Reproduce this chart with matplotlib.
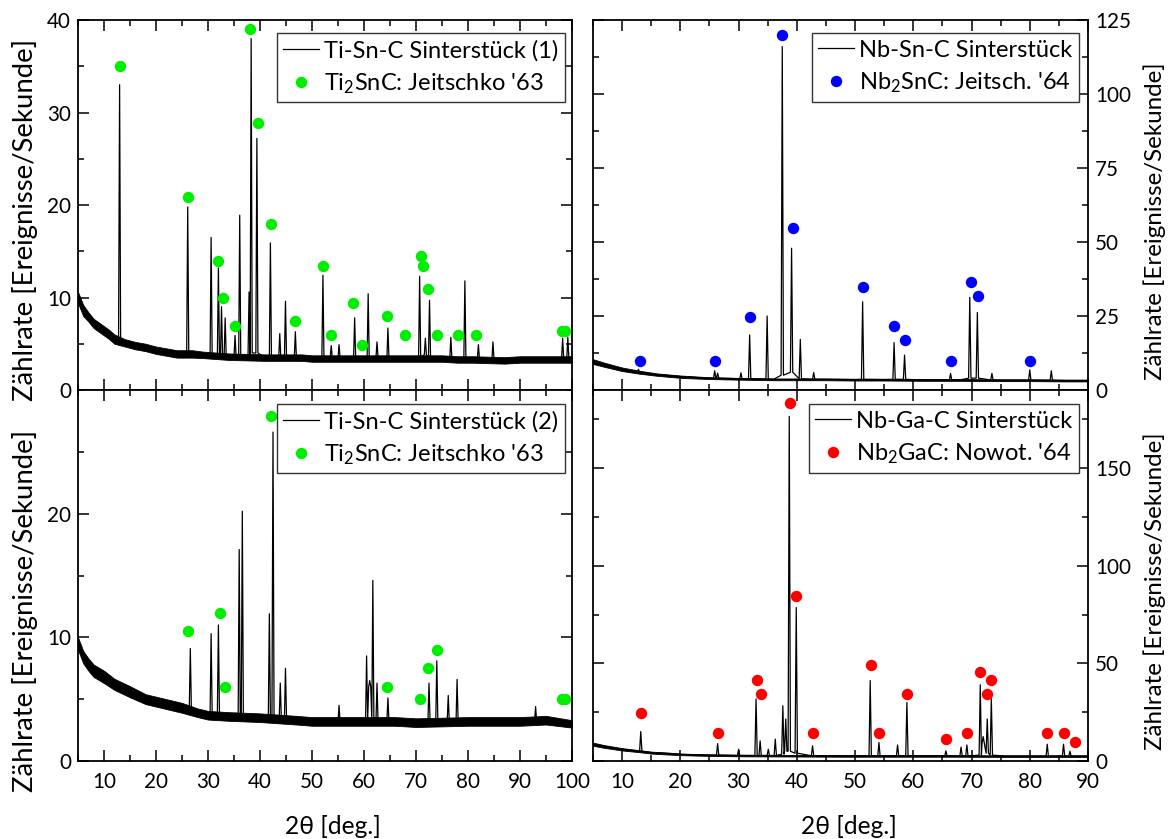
import numpy as np
import matplotlib
matplotlib.use('Agg')
import matplotlib.pyplot as plt
from matplotlib.ticker import MultipleLocator, FixedLocator
from matplotlib.lines import Line2D

plt.rcParams['font.family'] = ['Lato', 'DejaVu Sans']
plt.rcParams['mathtext.fontset'] = 'custom'
plt.rcParams['mathtext.rm'] = 'Lato'
plt.rcParams['mathtext.it'] = 'Lato:italic'

# ---------------- Panel data ----------------
# Top-left: Ti-Sn-C Sinterstück (1)
tl_bg_deg = [5, 6, 7, 8, 9, 10, 11, 12, 14, 16, 18, 20, 22, 24, 27, 29, 34, 41, 48, 50, 56, 60, 66, 69, 75, 78, 81, 87, 90, 95, 100]
tl_bg_mid = [10.0, 8.6, 7.9, 7.2, 6.8, 6.4, 6.0, 5.5, 5.1, 4.8, 4.6, 4.3, 4.1, 3.9, 3.9, 3.8, 3.6, 3.5, 3.5, 3.4, 3.4, 3.4, 3.4, 3.4, 3.4, 3.3, 3.3, 3.2, 3.3, 3.3, 3.3]
tl_bg_lo = [9.4, 8.0, 7.4, 6.7, 6.3, 5.9, 5.5, 5.0, 4.7, 4.4, 4.2, 3.9, 3.7, 3.5, 3.5, 3.45, 3.25, 3.15, 3.15, 3.05, 3.05, 3.05, 3.05, 3.05, 3.05, 2.95, 2.95, 2.85, 2.95, 2.95, 2.95]
tl_bg_hi = [10.6, 9.2, 8.4, 7.7, 7.3, 6.9, 6.5, 6.0, 5.5, 5.2, 5.0, 4.7, 4.5, 4.3, 4.3, 4.15, 3.95, 3.85, 3.85, 3.75, 3.75, 3.75, 3.75, 3.75, 3.75, 3.65, 3.65, 3.55, 3.65, 3.65, 3.65]
tl_pk_deg = [13.0, 26.1, 30.6, 32.0, 32.6, 33.3, 35.2, 36.1, 37.9, 38.3, 39.4, 42.0, 43.8, 44.9, 46.8, 52.1, 53.7, 55.2, 58.2, 60.8, 62.5, 64.6, 70.7, 71.8, 72.6, 76.7, 79.4, 82.0, 84.8, 98.2, 99.2]
tl_pk_top = [33.0, 19.8, 16.5, 13.2, 9.0, 7.8, 5.9, 18.9, 10.6, 38.0, 27.2, 15.9, 6.1, 9.6, 6.3, 12.4, 4.8, 4.9, 7.8, 10.4, 5.2, 6.7, 12.3, 5.6, 9.7, 5.7, 11.8, 4.9, 5.2, 5.6, 5.7]
tl_pk_base = [5.4, 4.0, 3.7, 3.7, 3.7, 3.7, 3.6, 3.6, 3.8, 4.0, 4.0, 3.6, 3.5, 3.5, 3.5, 3.5, 3.5, 3.5, 3.5, 3.5, 3.5, 3.4, 3.6, 3.8, 3.6, 3.4, 3.4, 3.4, 3.3, 3.4, 3.4]
tl_ref_deg = [13.0, 26.2, 32.0, 32.8, 35.2, 38.1, 39.6, 42.1, 46.7, 52.1, 53.7, 57.8, 59.6, 64.5, 67.9, 70.9, 71.4, 72.4, 74.1, 78.1, 81.5, 98.1, 98.6]
tl_ref_val = [35.0, 20.9, 13.9, 9.9, 6.95, 39.0, 28.9, 17.9, 7.46, 13.4, 5.9, 9.4, 4.9, 8.0, 5.9, 14.45, 13.4, 10.9, 5.9, 5.9, 5.9, 6.4, 6.4]

# Bottom-left: Ti-Sn-C Sinterstück (2)
bl_bg_deg = [5, 6, 7, 8, 10, 12, 15, 18, 20, 23, 25, 28, 30, 34, 40, 47, 50, 57, 66, 70, 80, 85, 90, 95, 100]
bl_bg_mid = [9.5, 8.4, 7.8, 7.3, 6.8, 6.2, 5.6, 5.0, 4.8, 4.5, 4.3, 3.9, 3.7, 3.6, 3.5, 3.3, 3.2, 3.2, 3.2, 3.1, 3.2, 3.2, 3.2, 3.3, 3.0]
bl_bg_lo = [9.0, 7.9, 7.3, 6.8, 6.3, 5.75, 5.15, 4.6, 4.4, 4.1, 3.9, 3.55, 3.35, 3.25, 3.15, 2.95, 2.85, 2.85, 2.85, 2.75, 2.85, 2.85, 2.85, 2.95, 2.7]
bl_bg_hi = [10.0, 8.9, 8.3, 7.8, 7.3, 6.65, 6.05, 5.4, 5.2, 4.9, 4.7, 4.25, 4.05, 3.95, 3.85, 3.65, 3.55, 3.55, 3.55, 3.45, 3.55, 3.55, 3.55, 3.65, 3.3]
bl_pk_deg = [26.6, 30.6, 32.0, 36.0, 36.6, 41.8, 42.5, 43.9, 44.9, 55.2, 60.5, 61.1, 61.7, 62.5, 64.6, 72.5, 74.0, 76.2, 77.9, 93.0]
bl_pk_top = [9.1, 10.3, 11.0, 17.1, 20.2, 11.9, 26.6, 6.3, 7.5, 4.5, 8.5, 6.5, 14.6, 6.3, 5.1, 6.3, 8.1, 5.3, 6.6, 4.4]
bl_pk_base = [4.2, 3.8, 3.8, 3.7, 3.7, 3.6, 3.6, 3.5, 3.5, 3.2, 3.3, 6.0, 3.3, 3.2, 3.2, 3.3, 3.3, 3.2, 3.2, 3.2]
bl_ref_deg = [26.2, 32.4, 33.2, 42.2, 64.5, 70.8, 72.4, 74.1, 98.1, 98.6]
bl_ref_val = [10.5, 12.0, 6.0, 27.9, 6.0, 5.0, 7.5, 9.0, 5.0, 5.0]

# Top-right: Nb-Sn-C Sinterstück
tr_bg_deg = [5, 7, 10, 13, 16, 20, 25, 30, 36, 45, 50, 55, 62, 68, 75, 80, 86, 90]
tr_bg_mid = [9.6, 8.5, 7.0, 6.0, 5.2, 4.5, 4.0, 3.8, 3.6, 3.6, 3.5, 3.5, 3.4, 3.4, 3.3, 3.3, 3.2, 3.2]
tr_bg_lo = [8.8, 7.8, 6.4, 5.5, 4.8, 4.1, 3.7, 3.5, 3.3, 3.3, 3.2, 3.2, 3.1, 3.1, 3.0, 3.0, 2.9, 2.9]
tr_bg_hi = [10.4, 9.2, 7.6, 6.5, 5.6, 4.9, 4.3, 4.1, 3.9, 3.9, 3.8, 3.8, 3.7, 3.7, 3.6, 3.6, 3.5, 3.5]
tr_pk_deg = [12.8, 25.9, 26.4, 30.4, 31.9, 34.9, 37.5, 39.1, 40.6, 42.9, 51.3, 56.7, 58.5, 66.4, 69.7, 71.0, 73.5, 80.0, 83.7]
tr_pk_top = [7.0, 6.5, 5.7, 5.8, 18.6, 25.0, 116.0, 47.9, 17.1, 5.9, 29.8, 16.0, 11.8, 5.6, 31.3, 26.2, 5.6, 6.8, 6.5]
tr_pk_base = [6.0, 4.0, 4.0, 3.8, 3.8, 3.7, 5.0, 6.0, 3.8, 3.6, 3.6, 3.6, 3.6, 3.4, 4.0, 4.0, 3.4, 3.3, 3.3]
tr_ref_deg = [13.1, 26.0, 31.9, 37.5, 39.3, 51.4, 56.7, 58.5, 66.5, 69.9, 71.1, 80.0]
tr_ref_val = [9.8, 9.8, 24.8, 119.9, 54.7, 34.7, 21.7, 16.9, 9.8, 36.6, 31.8, 9.8]

# Bottom-right: Nb-Ga-C Sinterstück
br_bg_deg = [5, 7, 10, 13, 15, 18, 20, 25, 31, 40, 48, 56, 62, 67, 76, 80, 88, 90]
br_bg_mid = [8.6, 7.4, 6.0, 5.0, 4.3, 3.8, 3.4, 3.0, 2.8, 2.7, 2.6, 2.6, 2.6, 2.6, 2.5, 2.5, 2.5, 2.5]
br_bg_lo = [7.8, 6.7, 5.4, 4.5, 3.8, 3.3, 3.0, 2.6, 2.4, 2.3, 2.2, 2.2, 2.2, 2.2, 2.1, 2.1, 2.1, 2.1]
br_bg_hi = [9.4, 8.1, 6.6, 5.5, 4.8, 4.3, 3.8, 3.4, 3.2, 3.1, 3.0, 3.0, 3.0, 3.0, 2.9, 2.9, 2.9, 2.9]
br_pk_deg = [13.2, 26.4, 30.0, 33.0, 33.7, 35.1, 36.3, 37.6, 38.1, 38.7, 39.9, 42.7, 52.6, 54.1, 57.3, 58.9, 65.6, 68.2, 69.2, 71.5, 72.0, 72.7, 73.4, 83.0, 85.8, 86.9]
br_pk_top = [15.1, 8.9, 6.0, 31.8, 10.3, 6.0, 11.2, 28.3, 21.5, 176.5, 78.6, 7.8, 41.2, 9.5, 8.2, 30.0, 5.2, 7.1, 8.2, 39.1, 12.5, 21.5, 31.8, 8.6, 8.6, 5.0]
br_pk_base = [5.0, 3.0, 2.8, 2.8, 2.8, 2.8, 2.8, 3.5, 5.0, 5.0, 4.0, 2.7, 2.6, 2.6, 2.6, 2.7, 2.6, 2.6, 2.6, 3.0, 9.0, 4.0, 3.0, 2.5, 2.5, 2.5]
br_ref_deg = [13.2, 26.4, 33.1, 33.8, 38.8, 39.9, 42.7, 52.7, 54.1, 58.9, 65.6, 69.2, 71.5, 72.7, 73.4, 82.9, 85.8, 87.7]
br_ref_val = [24.4, 14.2, 41.5, 34.3, 183.2, 84.6, 14.2, 49.4, 14.2, 34.3, 11.2, 14.2, 45.5, 34.3, 41.5, 14.2, 14.2, 9.5]

YLABEL = 'Zählrate [Ereignisse/Sekunde]'
XLABEL = '2θ [deg.]'

# ---------------- Drawing ----------------
W, H, DPI = 1174, 839, 100
fig = plt.figure(figsize=(W / DPI, H / DPI), dpi=DPI)
renderer = fig.canvas.get_renderer()

def fit_size(s, target_px):
    t = fig.text(0, 0, s, fontsize=10)
    w = t.get_window_extent(renderer).width
    t.remove()
    return 10.0 * target_px / w

FS_TICK = fit_size('40', 24)
FS_LEG = fit_size('Ti-Sn-C Sinterstück (1)', 234)
FS_YL_L = fit_size(YLABEL, 362)
FS_YL_R = fit_size(YLABEL, 318)
FS_XL = fit_size(XLABEL, 96)

def fr(x0, y0, x1, y1):
    return [x0 / W, 1 - y1 / H, (x1 - x0) / W, (y1 - y0) / H]

ax_tl = fig.add_axes(fr(78, 20, 572, 390))
ax_bl = fig.add_axes(fr(78, 390, 572, 761))
ax_tr = fig.add_axes(fr(593, 20, 1088, 390))
ax_br = fig.add_axes(fr(593, 390, 1088, 761))

HW = 0.2  # half-width of drawn peaks (deg)

def trace(bg_deg, bg_mid, pk_deg, pk_top, pk_base):
    pts = []
    for x, y in zip(bg_deg, bg_mid):
        if all(abs(x - p) > HW * 1.5 for p in pk_deg):
            pts.append((x, y))
    for p, t, b in zip(pk_deg, pk_top, pk_base):
        pts += [(p - HW, b), (p, t), (p + HW, b)]
    pts.sort()
    return [a for a, _ in pts], [b for _, b in pts]

def panel(ax, bg_deg, bg_mid, bg_lo, bg_hi, pk_deg, pk_top, pk_base,
          ref_deg, ref_val, color, label1, label2, xlim, ylim, yticks, ymin,
          side, xlabels, leg_tr):
    ax.fill_between(bg_deg, bg_lo, bg_hi, color='black', lw=0.6, zorder=1)
    x, y = trace(bg_deg, bg_mid, pk_deg, pk_top, pk_base)
    ax.plot(x, y, color='black', lw=0.9, zorder=2)
    ax.plot(ref_deg, ref_val, 'o', color=color, ms=8.2, mec='none', zorder=3)
    ax.set_xlim(*xlim)
    ax.set_ylim(*ylim)
    ax.xaxis.set_major_locator(MultipleLocator(10))
    ax.xaxis.set_minor_locator(MultipleLocator(5))
    ax.yaxis.set_major_locator(FixedLocator(yticks))
    ax.yaxis.set_minor_locator(MultipleLocator(ymin))
    ax.tick_params(which='both', direction='in', top=True, bottom=True,
                   left=True, right=True, labelsize=FS_TICK, width=1.1)
    ax.tick_params(which='major', length=8)
    ax.tick_params(which='minor', length=4.5)
    ax.tick_params(axis='y', pad=5)
    ax.tick_params(axis='x', pad=8)
    if side == 'right':
        ax.tick_params(labelleft=False, labelright=True)
    if not xlabels:
        ax.tick_params(labelbottom=False)
    for s in ax.spines.values():
        s.set_linewidth(1.3)
    handles = [Line2D([], [], color='black', lw=0.9),
               Line2D([], [], ls='none', marker='o', color=color, ms=8.2, mec='none')]
    fs_px = FS_LEG * DPI / 72.0
    leg = ax.legend(handles, [label1, label2], loc='upper right', fontsize=FS_LEG,
                    bbox_to_anchor=(leg_tr[0] / W, 1 - leg_tr[1] / H),
                    bbox_transform=fig.transFigure, borderaxespad=0,
                    frameon=True, fancybox=False, edgecolor='#333333',
                    framealpha=1, handlelength=36 / fs_px,
                    handletextpad=5 / fs_px, borderpad=0.28, labelspacing=0.42)
    leg.get_frame().set_linewidth(1.0)

panel(ax_tl, tl_bg_deg, tl_bg_mid, tl_bg_lo, tl_bg_hi, tl_pk_deg, tl_pk_top, tl_pk_base,
      tl_ref_deg, tl_ref_val, '#00ee00', 'Ti-Sn-C Sinterstück (1)',
      "Ti$_2$SnC: Jeitschko '63", (5, 100), (0, 40), [0, 10, 20, 30, 40], 5,
      'left', False, (565, 33))
panel(ax_bl, bl_bg_deg, bl_bg_mid, bl_bg_lo, bl_bg_hi, bl_pk_deg, bl_pk_top, bl_pk_base,
      bl_ref_deg, bl_ref_val, '#00ee00', 'Ti-Sn-C Sinterstück (2)',
      "Ti$_2$SnC: Jeitschko '63", (5, 100), (0, 30), [0, 10, 20], 5,
      'left', True, (565, 404))
panel(ax_tr, tr_bg_deg, tr_bg_mid, tr_bg_lo, tr_bg_hi, tr_pk_deg, tr_pk_top, tr_pk_base,
      tr_ref_deg, tr_ref_val, '#0000ff', 'Nb-Sn-C Sinterstück',
      "Nb$_2$SnC: Jeitsch. '64", (5, 90), (0, 125), [0, 25, 50, 75, 100, 125], 12.5,
      'right', False, (1079, 33))
panel(ax_br, br_bg_deg, br_bg_mid, br_bg_lo, br_bg_hi, br_pk_deg, br_pk_top, br_pk_base,
      br_ref_deg, br_ref_val, '#ff0000', 'Nb-Ga-C Sinterstück',
      "Nb$_2$GaC: Nowot. '64", (5, 90), (0, 190), [0, 50, 100, 150], 25,
      'right', True, (1079, 404))

# axis titles
fig.text(25 / W, 1 - 220 / H, YLABEL, rotation=90, ha='center', va='center', fontsize=FS_YL_L)
fig.text(25 / W, 1 - 611 / H, YLABEL, rotation=90, ha='center', va='center', fontsize=FS_YL_L)
fig.text(1155 / W, 1 - 221 / H, YLABEL, rotation=90, ha='center', va='center', fontsize=FS_YL_R)
fig.text(1155 / W, 1 - 591 / H, YLABEL, rotation=90, ha='center', va='center', fontsize=FS_YL_R)
fig.text(333 / W, 1 - 826 / H, XLABEL, ha='center', va='center', fontsize=FS_XL)
fig.text(849 / W, 1 - 826 / H, XLABEL, ha='center', va='center', fontsize=FS_XL)

fig.savefig('out.png', dpi=DPI)
